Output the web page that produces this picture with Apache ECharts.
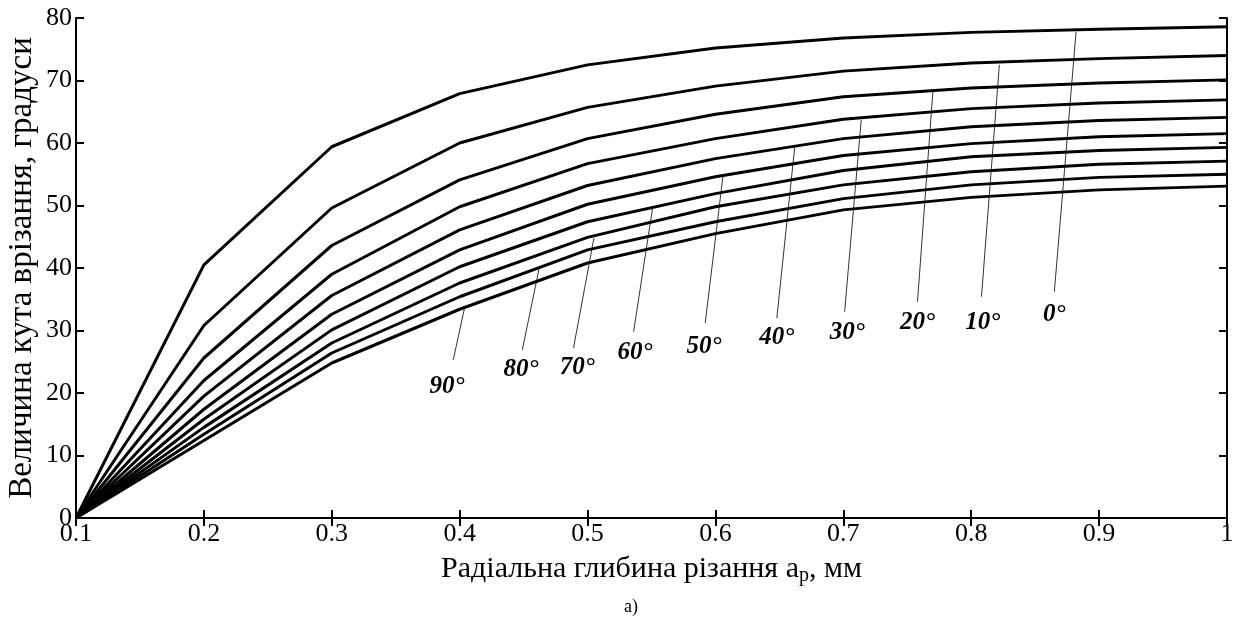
<!DOCTYPE html>
<html>
<head>
<meta charset="utf-8">
<script src="https://cdn.jsdelivr.net/npm/echarts@6/dist/echarts.min.js"></script>
<style>
html,body{margin:0;padding:0;background:#fff;}
#chart{width:1237px;height:623px;}
</style>
</head>
<body>
<div id="chart"></div>
<script>
// ---- data ----
const depth = [0.1, 0.2, 0.3, 0.4, 0.5, 0.6, 0.7, 0.8, 0.9, 1.0];
const angleNames = ['0°', '10°', '20°', '30°', '40°', '50°', '60°', '70°', '80°', '90°'];
const a0  = [0, 40.5, 59.4, 67.9, 72.5, 75.2, 76.8, 77.7, 78.2, 78.6];
const a10 = [0, 30.8, 49.6, 60.0, 65.7, 69.1, 71.5, 72.8, 73.5, 74.0];
const a20 = [0, 25.6, 43.6, 54.1, 60.7, 64.6, 67.4, 68.8, 69.6, 70.1];
const a30 = [0, 22.0, 39.0, 49.8, 56.7, 60.7, 63.8, 65.5, 66.4, 66.9];
const a40 = [0, 19.5, 35.6, 46.1, 53.2, 57.5, 60.7, 62.6, 63.6, 64.1];
const a50 = [0, 17.4, 32.6, 42.9, 50.2, 54.6, 58.0, 59.9, 61.0, 61.5];
const a60 = [0, 15.8, 30.1, 40.2, 47.4, 51.9, 55.6, 57.8, 58.8, 59.3];
const a70 = [0, 14.5, 28.0, 37.6, 44.9, 49.8, 53.3, 55.4, 56.6, 57.1];
const a80 = [0, 13.4, 26.4, 35.4, 42.9, 47.4, 51.1, 53.3, 54.5, 55.0];
const a90 = [0, 12.4, 24.8, 33.4, 40.8, 45.5, 49.3, 51.3, 52.5, 53.1];
const curves = [a0, a10, a20, a30, a40, a50, a60, a70, a80, a90];

// annotation positions (data units)
const labelX = [0.865, 0.809, 0.758, 0.703, 0.648, 0.591, 0.537, 0.492, 0.448, 0.390];
const labelY = [32.5, 31.2, 31.2, 29.6, 28.8, 27.4, 26.4, 24.1, 23.7, 21.0];
const leaderX1 = [0.865, 0.808, 0.758, 0.701, 0.648, 0.592, 0.536, 0.489, 0.449, 0.395];
const leaderY1 = [36.2, 35.4, 34.6, 33.0, 32.0, 31.2, 29.8, 27.2, 26.9, 25.3];
const leaderX2 = [0.882, 0.822, 0.770, 0.714, 0.662, 0.606, 0.551, 0.505, 0.462, 0.404];
const leaderY2 = [77.8, 72.5, 68.2, 63.7, 59.4, 54.9, 49.8, 44.8, 39.8, 33.8];

const xTicks = ['0.1','0.2','0.3','0.4','0.5','0.6','0.7','0.8','0.9','1'];

// ---- chart ----
const chart = echarts.init(document.getElementById('chart'), null, {renderer: 'canvas'});
const FONT = 'Liberation Serif';

const series = curves.map((vals, k) => ({
  name: angleNames[k],
  type: 'line',
  data: depth.map((x, i) => [x, vals[i]]),
  symbol: 'none',
  lineStyle: {color: '#000', width: 3},
  z: 3,
  animation: false
}));

series.push({
  type: 'lines',
  coordinateSystem: 'cartesian2d',
  data: angleNames.map((n, k) => ({coords: [[leaderX1[k], leaderY1[k]], [leaderX2[k], leaderY2[k]]]})),
  lineStyle: {color: '#333', width: 1, opacity: 1},
  z: 2,
  animation: false
});

series.push({
  type: 'custom',
  coordinateSystem: 'cartesian2d',
  data: angleNames.map((n, k) => [labelX[k], labelY[k], k]),
  renderItem: function (params, api) {
    const p = api.coord([api.value(0), api.value(1)]);
    return {
      type: 'text',
      x: p[0], y: p[1],
      style: {
        text: angleNames[api.value(2)],
        fill: '#000',
        font: 'italic bold 25px "Liberation Serif"',
        align: 'center', verticalAlign: 'middle'
      }
    };
  },
  z: 4,
  animation: false
});

const tickLabel = {color: '#000', fontFamily: FONT, fontSize: 26};

chart.setOption({
  backgroundColor: '#fff',
  animation: false,
  grid: {left: 76, right: 10, top: 18, bottom: 105, containLabel: false, outerBoundsMode: 'none'},
  xAxis: [{
    type: 'value', min: 0.1, max: 1, interval: 0.1,
    axisLine: {show: true, lineStyle: {color: '#000', width: 2}},
    axisTick: {show: true, inside: true, length: 8, lineStyle: {color: '#000', width: 2}},
    axisLabel: Object.assign({margin: 3, formatter: (v) => xTicks[Math.round((v - 0.1) * 10)]}, tickLabel),
    splitLine: {show: false},
    name: '{t|Радіальна глибина різання a}{s|p}{t|, мм}',
    nameLocation: 'middle', nameGap: 33,
    nameTextStyle: {
      rich: {
        t: {fontFamily: FONT, fontSize: 30, color: '#000', lineHeight: 34},
        s: {fontFamily: FONT, fontSize: 20, color: '#000', lineHeight: 34, verticalAlign: 'bottom', padding: [14, 0, 0, 0]}
      }
    }
  }, {
    type: 'value', min: 0.1, max: 1, interval: 0.1, position: 'top',
    axisLine: {show: true, lineStyle: {color: '#000', width: 2}},
    axisTick: {show: true, inside: true, length: 8, lineStyle: {color: '#000', width: 2}},
    axisLabel: {show: false}, splitLine: {show: false}
  }],
  yAxis: [{
    type: 'value', min: 0, max: 80, interval: 10,
    axisLine: {show: true, lineStyle: {color: '#000', width: 2}},
    axisTick: {show: true, inside: true, length: 8, lineStyle: {color: '#000', width: 2}},
    axisLabel: Object.assign({margin: 4}, tickLabel),
    splitLine: {show: false},
    name: 'Величина кута врізання, градуси',
    nameLocation: 'middle', nameGap: 37, nameMoveOverlap: false,
    nameTextStyle: {fontFamily: FONT, fontSize: 33, color: '#000'}
  }, {
    type: 'value', min: 0, max: 80, interval: 10, position: 'right',
    axisLine: {show: true, lineStyle: {color: '#000', width: 2}},
    axisTick: {show: true, inside: true, length: 8, lineStyle: {color: '#000', width: 2}},
    axisLabel: {show: false}, splitLine: {show: false}
  }],
  graphic: [{
    type: 'text', left: 624, top: 598,
    style: {text: 'а)', fontFamily: FONT, fontSize: 18, fill: '#000'}
  }],
  series: series
});
</script>
</body>
</html>
